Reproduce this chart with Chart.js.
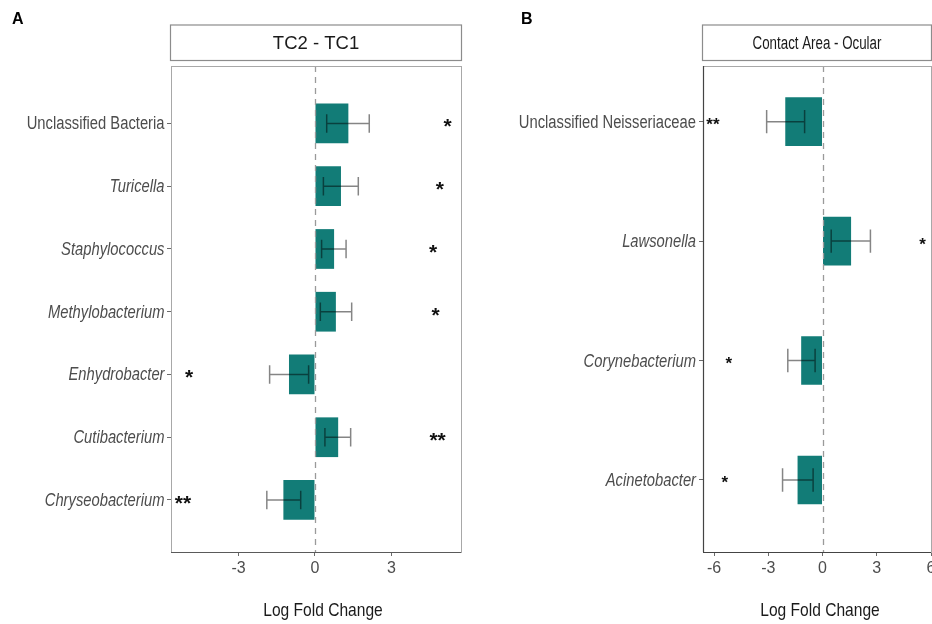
<!DOCTYPE html>
<html><head><meta charset="utf-8">
<script src="https://cdn.jsdelivr.net/npm/chart.js@4/dist/chart.umd.min.js"></script>
<style>
html,body{margin:0;padding:0;width:932px;height:624px;overflow:hidden;background:#fff}
#wa{position:absolute;left:0;top:0;width:470px;height:624px}
#wb{position:absolute;left:480px;top:0;width:480px;height:624px}
</style></head><body>
<div id="wa"><canvas id="ca"></canvas></div>
<div id="wb"><canvas id="cb"></canvas></div>
<script>
// ---------- Panel A data ----------
const panelALetter = "A";
const panelATitle = "TC2 - TC1";
const panelACategories = ["Unclassified Bacteria","Turicella","Staphylococcus","Methylobacterium","Enhydrobacter","Cutibacterium","Chryseobacterium"];
const panelALogFC  = [1.31, 1.02, 0.75, 0.82, -1.02, 0.91, -1.24];
const panelAErrLow = [0.46, 0.33, 0.26, 0.21, -1.78, 0.39, -1.89];
const panelAErrHigh= [2.13, 1.70, 1.22, 1.44, -0.25, 1.40, -0.56];
const panelASignif = ["*","*","*","*","*","**","**"];
const panelAStarX  = [5.2, 4.9, 4.63, 4.73, -4.94, 4.81, -5.18];
const panelATicks  = [-3, 0, 3];

// ---------- Panel B data ----------
const panelBLetter = "B";
const panelBTitle = "Contact Area - Ocular";
const panelBCategories = ["Unclassified Neisseriaceae","Lawsonella","Corynebacterium","Acinetobacter"];
const panelBLogFC  = [-2.06, 1.58, -1.18, -1.38];
const panelBErrLow = [-3.09, 0.48, -1.92, -2.21];
const panelBErrHigh= [-0.99, 2.65, -0.41, -0.52];
const panelBSignif = ["**","*","*","*"];
const panelBStarX  = [-6.06, 5.54, -5.18, -5.4];
const panelBTicks  = [-6, -3, 0, 3, 6];

const xTitle = "Log Fold Change";
const REG = '"Liberation Sans",Arial,sans-serif';
const TEAL = '#127c77';
const NARROW_SCALE = 0.82;

// draw horizontally condensed text (emulates a narrow face)
function narrowText(ctx, text, x, y, font, color, align, baseline, sx) {
  ctx.save();
  ctx.translate(x, y);
  ctx.scale(sx || NARROW_SCALE, 1);
  ctx.font = font; ctx.fillStyle = color;
  ctx.textAlign = align; ctx.textBaseline = baseline;
  ctx.fillText(text, 0, 0);
  ctx.restore();
}

function makePanel(canvasId, p) {
  const cats = p.categories;
  const decor = {
    id: 'decor_' + canvasId,
    afterDatasetsDraw(chart) {
      const {ctx, chartArea: a, scales: {x, y}} = chart;
      ctx.save();
      // dashed zero line
      const x0 = Math.round(x.getPixelForValue(0)) + 0.5;
      ctx.strokeStyle = '#9a9a9a'; ctx.lineWidth = 1.3; ctx.setLineDash([6, 5]);
      ctx.beginPath(); ctx.moveTo(x0, a.top); ctx.lineTo(x0, a.bottom); ctx.stroke();
      ctx.setLineDash([]);
      // error bars
      ctx.strokeStyle = 'rgba(0,0,0,0.48)'; ctx.lineWidth = 1.5;
      const meta = chart.getDatasetMeta(0);
      cats.forEach((c, i) => {
        const cy = y.getPixelForValue(i + 1);
        const bh = meta.data[i].height;
        const cap = bh * p.capRatio / 2;
        const xl = x.getPixelForValue(p.errLow[i]);
        const xh = x.getPixelForValue(p.errHigh[i]);
        ctx.beginPath();
        ctx.moveTo(xl, cy); ctx.lineTo(xh, cy);
        ctx.moveTo(xl, cy - cap); ctx.lineTo(xl, cy + cap);
        ctx.moveTo(xh, cy - cap); ctx.lineTo(xh, cy + cap);
        ctx.stroke();
      });
      // significance stars
      ctx.fillStyle = '#111';
      ctx.font = 'bold ' + p.starSize + 'px ' + REG;
      ctx.textAlign = 'center'; ctx.textBaseline = 'alphabetic';
      cats.forEach((c, i) => {
        const cy = y.getPixelForValue(i + 1);
        const m = ctx.measureText(p.signif[i]);
        const base = cy + (m.actualBoundingBoxAscent - m.actualBoundingBoxDescent) / 2;
        ctx.fillText(p.signif[i], x.getPixelForValue(p.starX[i]), base);
      });
      ctx.restore();
    },
    afterDraw(chart) {
      const {ctx, chartArea: a, scales: {x, y}} = chart;
      ctx.save();
      // panel box
      ctx.strokeStyle = '#a8a8a8'; ctx.lineWidth = 1;
      ctx.strokeRect(Math.round(a.left) + 0.5, Math.round(a.top) + 0.5, Math.round(a.right - a.left), Math.round(a.bottom - a.top));
      // dark axis lines
      ctx.strokeStyle = p.axisColor; ctx.lineWidth = 1.2;
      ctx.beginPath();
      ctx.moveTo(a.left, Math.round(a.bottom) + 0.5); ctx.lineTo(a.right, Math.round(a.bottom) + 0.5);
      if (p.darkLeft) { ctx.moveTo(Math.round(a.left) + 0.5, a.top); ctx.lineTo(Math.round(a.left) + 0.5, a.bottom); }
      ctx.stroke();
      // category labels (condensed, genus names italic)
      cats.forEach((c, i) => {
        const cy = y.getPixelForValue(i + 1);
        const style = c.startsWith('Unclassified') ? '' : 'italic ';
        narrowText(ctx, c, a.left - p.labelGap, cy + 1, style + '18px ' + REG, '#4d4d4d', 'right', 'middle');
      });
      // x-axis title
      narrowText(ctx, xTitle, (a.left + a.right) / 2 + p.xTitleDx, 611, '19px ' + REG, '#1a1a1a', 'center', 'middle');
      // facet strip
      const st = a.top - 41, sb = a.top - 5.5;
      ctx.fillStyle = '#ffffff';
      ctx.strokeStyle = '#8c8c8c'; ctx.lineWidth = 1.2;
      ctx.fillRect(a.left - 1, st, a.right - a.left + 1, sb - st);
      ctx.strokeRect(a.left - 0.5, st, a.right - a.left + 1, sb - st);
      narrowText(ctx, p.title, (a.left + a.right) / 2, (st + sb) / 2 + 1, p.titleFont, '#1a1a1a', 'center', 'middle', p.titleScale);
      // panel letter
      ctx.font = 'bold 16px ' + REG;
      ctx.textAlign = 'left'; ctx.textBaseline = 'middle';
      ctx.fillStyle = '#000';
      ctx.fillText(p.letter, p.letterX, 20);
      ctx.restore();
    }
  };

  return new Chart(document.getElementById(canvasId), {
    type: 'bar',
    data: {
      datasets: [{
        data: p.logFC.map((v, i) => ({x: v, y: i + 1})),
        backgroundColor: TEAL,
        borderWidth: 0,
        barPercentage: p.barPct,
        categoryPercentage: 1
      }]
    },
    options: {
      indexAxis: 'y',
      responsive: true,
      maintainAspectRatio: false,
      animation: false,
      layout: {padding: {left: 0, top: 66, right: p.padRight, bottom: 0}},
      plugins: {legend: {display: false}, tooltip: {enabled: false}, title: {display: false}},
      scales: {
        y: {
          type: 'linear',
          reverse: true,
          offset: false,
          min: p.yMin, max: p.yMax,
          afterBuildTicks: s => { s.ticks = cats.map((c, i) => ({value: i + 1})); },
          afterFit: s => { s.width = p.yAxisWidth; },
          grid: {display: true, offset: false, drawOnChartArea: false, drawTicks: true, tickLength: 4, tickColor: '#6a6a6a', color: '#6a6a6a'},
          border: {display: false},
          ticks: {display: false, autoSkip: false, callback: v => cats[Math.round(v) - 1]}
        },
        x: {
          type: 'linear',
          min: p.xMin, max: p.xMax,
          afterBuildTicks: s => { s.ticks = p.xTicks.map(v => ({value: v})); },
          afterFit: s => { s.height = 72; },
          grid: {display: true, drawOnChartArea: false, drawTicks: true, tickLength: 4, tickColor: '#6a6a6a', color: '#6a6a6a'},
          border: {display: false},
          ticks: {autoSkip: false, padding: 3, color: '#4d4d4d', font: {family: REG, size: 16}, maxRotation: 0},
          title: {display: false, text: xTitle}
        }
      }
    },
    plugins: [decor]
  });
}

makePanel('ca', {
  letter: panelALetter, letterX: 12, title: panelATitle, titleFont: '18.5px ' + REG, titleScale: 1,
  categories: panelACategories, logFC: panelALogFC, errLow: panelAErrLow, errHigh: panelAErrHigh,
  signif: panelASignif, starX: panelAStarX, xTicks: panelATicks,
  xMin: -5.65, xMax: 5.73, yMin: 0.084, yMax: 7.829,
  barPct: 0.633, capRatio: 0.47, starSize: 21,
  yAxisWidth: 171, padRight: 9, labelGap: 6.5, xTitleDx: 7, axisColor: '#5a5a5a', darkLeft: false
});

makePanel('cb', {
  letter: panelBLetter, letterX: 41, title: panelBTitle, titleFont: '18px ' + REG, titleScale: 0.74,
  categories: panelBCategories, logFC: panelBLogFC, errLow: panelBErrLow, errHigh: panelBErrHigh,
  signif: panelBSignif, starX: panelBStarX, xTicks: panelBTicks,
  xMin: -6.61, xMax: 6.0, yMin: 0.534, yMax: 4.603,
  barPct: 0.407, capRatio: 0.48, starSize: 17,
  yAxisWidth: 223, padRight: 29, labelGap: 7, xTitleDx: 3, axisColor: '#444', darkLeft: true
});
</script>
</body></html>
